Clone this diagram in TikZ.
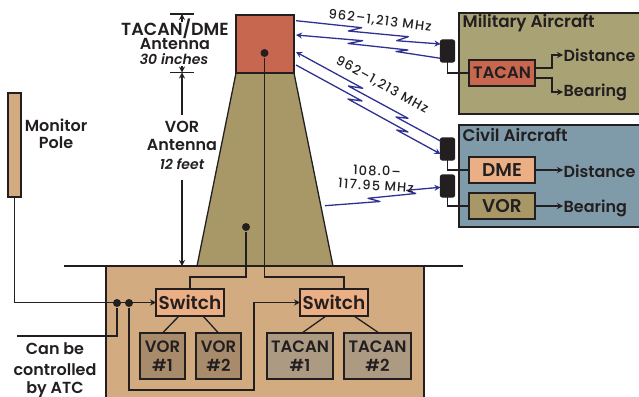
\documentclass[tikz,border=0pt]{standalone}
\usepackage{fontspec}
\setmainfont{Poppins}[BoldFont={Poppins SemiBold},BoldItalicFont={Poppins SemiBold Italic}]
\newfontfamily\freqfont{Poppins Medium}[LetterSpace=9]
\usepackage{tikz}
\usetikzlibrary{positioning}
\usetikzlibrary{arrows.meta}
\definecolor{ink}{HTML}{231F20}
\definecolor{radio}{HTML}{2E3192}
\definecolor{brick}{HTML}{C8674F}
\definecolor{olive}{HTML}{A89868}
\definecolor{milfill}{HTML}{A9A274}
\definecolor{civfill}{HTML}{7F9BA9}
\definecolor{sandfill}{HTML}{D2AC80}
\definecolor{peach}{HTML}{EBAF85}
\definecolor{voriron}{HTML}{A88B6A}
\definecolor{tacgrey}{HTML}{AC9A82}
\begin{document}
\begin{tikzpicture}[x=1pt,y=-1pt, ink, line width=1.3pt,
	lbl/.style={font=\fontsize{16}{18}\selectfont\bfseries,text=ink,inner sep=0pt},
	ttl/.style={font=\fontsize{16.8}{18}\selectfont\bfseries,text=ink,inner sep=0pt},
	ital/.style={font=\fontsize{14}{16}\selectfont\bfseries\itshape,text=ink,inner sep=0pt},
	freq/.style={font=\fontsize{13}{15}\freqfont,text=ink,inner sep=0pt},
	unit/.style={draw=ink,font=\fontsize{16.5}{19}\selectfont\bfseries,text=ink,inner sep=0pt,outer sep=0pt,align=center},
	bigunit/.style={unit,font=\fontsize{18.5}{20}\selectfont\bfseries},
	recv/.style={fill=ink,draw=ink,rounded corners=2pt,minimum width=14pt,minimum height=22pt,inner sep=0pt,outer sep=0pt},
	dot/.style={circle,fill=ink,minimum size=8pt,inner sep=0pt},
	wave/.style={radio,line width=1.3pt,line join=round},
	tip/.style={-{Stealth[length=6pt,width=6pt]}},
	]
	\useasboundingbox (0,0) rectangle (639,396);
	\clip (0,0) rectangle (639,396);

	% tower and building
	\draw[fill=sandfill] (106,266) rectangle (424,400);
	\coordinate (twl) at (236,73);
	\coordinate (twr) at (294,73);
	\draw[fill=olive] (twl) -- (twr) -- (333,266) -- (197,266) -- cycle;
	\node[draw=ink,fill=brick,minimum size=58pt,inner sep=0pt,outer sep=0pt] (tacant) at (265,44) {};
	\coordinate (gndl) at (64,266);
	\coordinate (gndr) at (463,266);
	\draw (gndl) -- (gndr);

	% pole
	\node[draw=ink,fill=sandfill,minimum width=13pt,minimum height=104pt,inner sep=0pt,outer sep=0pt] (pole) at (14.5,145) {};
	\node[lbl] (monitor) at (56,125) {Monitor};
	\node[lbl] (polelbl) at (56,143) {Pole};

	% aircraft panels
	\node[draw=ink,fill=milfill,minimum width=186pt,minimum height=101pt,inner sep=0pt] (milbox) at (552,63.5) {};
	\node[draw=ink,fill=civfill,minimum width=186pt,minimum height=102pt,inner sep=0pt] (civbox) at (552,176) {};
	\node[ttl,anchor=west] (miltitle) at (462,23) {Military Aircraft};
	\node[ttl,anchor=west] (civtitle) at (462,135) {Civil Aircraft};

	\node[unit,fill=brick,minimum width=66pt,minimum height=26pt] (tacan) at (502,73) {TACAN};
	\node[bigunit,fill=peach,minimum width=66pt,minimum height=26pt] (dme) at (502,170) {DME};
	\node[bigunit,fill=olive,minimum width=66pt,minimum height=26pt] (vor) at (502,206) {VOR};

	\node[recv] (rx1) at (447.5,51) {};
	\node[recv] (rx2) at (447.5,149) {};
	\node[recv] (rx3) at (447.5,186) {};

	\node[lbl,anchor=west] (dist1) at (563,55) {Distance};
	\node[lbl,anchor=west] (bear1) at (563,92) {Bearing};
	\node[lbl,anchor=west] (dist2) at (563,171) {Distance};
	\node[lbl,anchor=west] (bear2) at (563,208) {Bearing};

	\draw (rx1.south) |- (tacan.west);
	\draw (rx2.south) |- (dme.west);
	\draw (rx3.south) |- (vor.west);
	\draw[tip] ([yshift=5pt]tacan.east) -- (552,68) |- (dist1.west);
	\draw[tip] ([yshift=-5pt]tacan.east) -- (552,78) |- (bear1.west);
	\draw[tip] (dme.east) -- (dme.east -| dist2.west);
	\draw[tip] (vor.east) -- (vor.east -| bear2.west);

	% radio links
	\draw[wave,tip] (296,20.7) -- (361.7,27.7) -- (348.3,31) -- (408.3,36.7) -- (396.7,40.7) -- (rx1.west |- 0,44);
	\draw[wave,tip] (rx1.west |- 0,58.3) -- (396,51.5) -- (408,50) -- (348,43.5) -- (362.7,40.7) -- (296,35);
	\draw[wave,tip] (rx2.west |- 0,141) -- (396,117) -- (408,118.3) -- (348.3,86) -- (362.7,88.3) -- (296,52);
	\draw[wave,tip] (296,65) -- (362,101) -- (348,99) -- (408,132) -- (396.7,130) -- (rx2.west |- 0,154);
	\draw[wave,tip] (325,205.7) -- (380,201.5) -- (368,198.3) -- (415.7,193.5) -- (406.7,190.3) -- (rx3.west |- 0,187.3);

	\node[freq,rotate=-7.5] (f1) at (380,21) {962–1,213 MHz};
	\node[freq,rotate=-29] (f2) at (382,85) {962–1,213 MHz};
	\node[freq,rotate=-2] (f3) at (377,171) {108.0–};
	\node[freq,rotate=-4] (f4) at (376,185.5) {117.95 MHz};

	% height marks
	\node[lbl,font=\fontsize{17.5}{18}\selectfont\bfseries] (tdlbl) at (175,29) {TACAN/DME};
	\node[lbl] (ant1) at (175,44) {Antenna};
	\node[ital] (inch) at (174,59) {30 inches};
	\node[lbl] (vorlbl) at (182,127) {VOR};
	\node[lbl] (ant2) at (182,145) {Antenna};
	\node[ital] (feet) at (182,164) {12 feet};
	\coordinate (ticka) at (182,14);
	\coordinate (tickb) at (182,72.5);
	\draw ([xshift=-12pt]ticka) -- ([xshift=12pt]ticka);
	\draw ([xshift=-12pt]tickb) -- ([xshift=12pt]tickb);
	\draw[tip] (182,22) -- (ticka);
	\draw[tip] (182,66) -- (tickb);
	\draw[tip] (182,115) -- (tickb);
	\draw[tip] (182,180) -- (182,266);

	% equipment
	\node[bigunit,fill=peach,minimum width=68pt,minimum height=27pt] (sw1) at (190,302.5) {Switch};
	\node[bigunit,fill=peach,minimum width=68pt,minimum height=27pt] (sw2) at (334,302.5) {Switch};
	\node[unit,fill=voriron,minimum width=45pt,minimum height=46pt] (vor1) at (162.5,356) {VOR\\\#1};
	\node[unit,fill=voriron,minimum width=45pt,minimum height=46pt] (vor2) at (218.5,356) {VOR\\\#2};
	\node[unit,fill=tacgrey,minimum width=66pt,minimum height=46pt] (tac1) at (300,356) {TACAN\\\#1};
	\node[unit,fill=tacgrey,minimum width=67pt,minimum height=46pt] (tac2) at (377.5,356) {TACAN\\\#2};
	\draw (179,316) -- (vor1.north);
	\draw (203,316) -- (vor2.north);
	\draw (326,316) -- (302,333);
	\draw (354,316) -- (379,333);

	\node[dot] (toptx) at (264.5,53) {};
	\node[dot] (lowtx) at (246,227) {};
	\draw (sw1.north) -- ++(0,-12) -| (lowtx);
	\draw ([xshift=10pt]sw2.north) -- ++(0,-12) -| (toptx);

	\node[dot] (j1) at (117,303) {};
	\node[dot] (j2) at (129,303) {};
	\coordinate (atc) at (17,336);
	\draw[tip] (pole.south) |- (sw1.west);
	\draw (j1) |- (atc);
	\draw[tip] (j2) -- (129,390) -- (254,390) |- (sw2.west);

	\node[lbl] (can) at (55,349) {Can be};
	\node[lbl] (ctl) at (55,369.5) {controlled};
	\node[lbl] (byatc) at (55,390) {by ATC};
\end{tikzpicture}
\end{document}
